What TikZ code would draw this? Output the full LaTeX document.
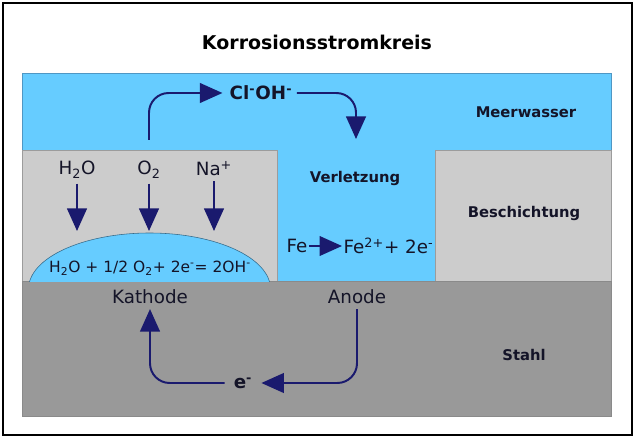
\documentclass[tikz,border=0pt]{standalone}
\usepackage{fontspec}
\setmainfont{DejaVu Sans}
\usepackage{tikz}
\usetikzlibrary{positioning, arrows.meta}

\definecolor{water}{HTML}{66CCFF}
\definecolor{waterline}{HTML}{4F97C4}
\definecolor{coat}{HTML}{CCCCCC}
\definecolor{coatline}{HTML}{9C9C9C}
\definecolor{steel}{HTML}{999999}
\definecolor{steelline}{HTML}{8A8A8A}
\definecolor{navy}{HTML}{1A1A6E}
\definecolor{ink}{HTML}{141428}

\tikzset{
  flow/.style={draw=navy, line width=1.4pt, rounded corners=14pt,
    -{Triangle[width=14pt,length=16pt]}},
  tag/.style={font=\bfseries\fontsize{10.5}{12}\selectfont, text=ink},
  lbl/.style={font=\fontsize{13}{15}\selectfont, text=ink},
  boldlbl/.style={font=\bfseries\fontsize{13}{15}\selectfont, text=ink},
}

\begin{document}
\begin{tikzpicture}[x=0.025cm, y=-0.025cm]
    \useasboundingbox (0,0) rectangle (635,438);

    % Draw layers
    \draw[line width=1.5pt] (3,3) rectangle (632,435);
    \filldraw[fill=water, draw=waterline] (22,73) rectangle (611,281);
    \filldraw[fill=coat, draw=coatline] (22,150) rectangle (277,281);
    \filldraw[fill=coat, draw=coatline] (435,150) rectangle (611,281);
    \filldraw[fill=steel, draw=steelline] (22,281) rectangle (611,416);
    \begin{scope}
        \clip (22,150) rectangle (277,281);
        \filldraw[fill=water, draw=waterline!70!black] (149.5,289) ellipse [x radius=121, y radius=56];
    \end{scope}

    % Define nodes
    \node[font=\bfseries\fontsize{13.5}{16}\selectfont] (title) at (317,42) {Korrosionsstromkreis};
    \node[tag] (meer) at (526,112) {Meerwasser};
    \node[tag] (verl) at (355,178) {Verletzung};
    \node[tag] (besch) at (524,213) {Beschichtung};
    \node[tag] (stahl) at (524,355) {Stahl};
    \node[boldlbl, inner sep=1pt] (cloh) at (261,93) {Cl\textsuperscript{-}OH\textsuperscript{-}};
    \node[lbl] (h2o) at (77,170) {H\textsubscript{2}O};
    \node[lbl] (o2) at (149,170) {O\textsubscript{2}};
    \node[lbl] (na) at (214,169) {Na\textsuperscript{+}};
    \node[font=\fontsize{11}{13}\selectfont, text=ink] (react) at (150,268) {H\textsubscript{2}O + 1/2 O\textsubscript{2}+ 2e\textsuperscript{-}= 2OH\textsuperscript{-}};
    \node[lbl, inner sep=1pt] (fe) at (297,246) {Fe};
    \node[lbl, inner sep=1pt, anchor=west] (fe2) at (342,246) {Fe\textsuperscript{2+}+ 2e\textsuperscript{-}};
    \node[lbl] (kath) at (150,297) {Kathode};
    \node[lbl] (anode) at (357,297) {Anode};
    \node[boldlbl] (elec) at (243,383) {e\textsuperscript{-}};
    \coordinate (rise) at (149,140);
    \coordinate (sink) at (356,139);
    \coordinate (droptop) at (149,231);

    % Draw arrows
    \draw[flow, shorten >=4pt] (rise) |- (cloh.west);
    \draw[flow, shorten <=2pt] (cloh.east) -| (sink);
    \foreach \n in {h2o, o2, na}
        \draw[flow] (\n.south) -- (\n.south |- droptop);
    \draw[flow, rounded corners=0pt] (fe.east) -- (fe2.west);
    \draw[flow, shorten >=3pt] (anode.south) |- (elec.east);
    \draw[flow, shorten <=3pt] (elec.west) -| (kath.south);
\end{tikzpicture}
\end{document}
